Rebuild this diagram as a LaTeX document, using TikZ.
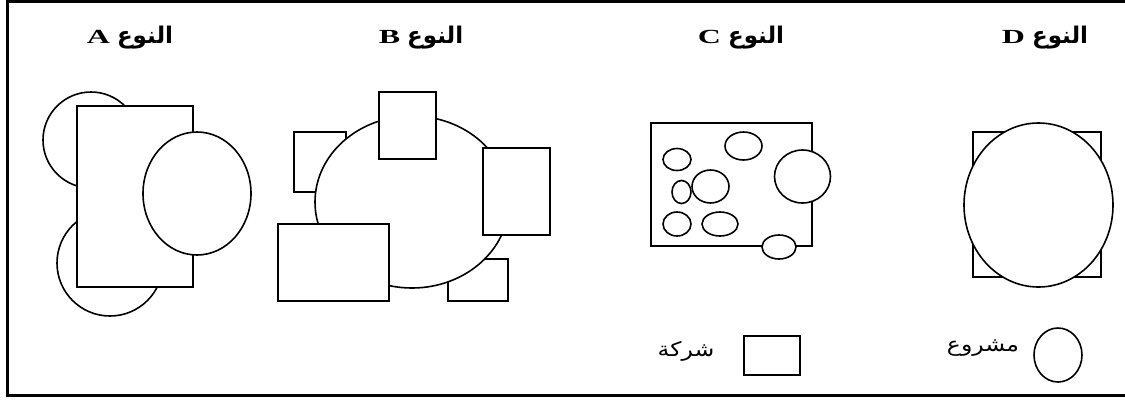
\documentclass[tikz,border=0pt]{standalone}
\usepackage{fontspec}
\setmainfont{Liberation Serif}
\newfontfamily\arabicfont[Script=Arabic]{DejaVu Sans}
\TeXXeTstate=1
\newcommand{\typetitle}[1]{\scalebox{1.6}[1]{\fontsize{20}{24}\selectfont\bfseries #1}\hspace{7pt}{\arabicfont\fontsize{23}{28}\selectfont\bfseries\beginR النوع\endR}}
\begin{document}
\begin{tikzpicture}[x=1pt,y=-1pt,
  shp/.style={draw,line width=1.6pt,fill=white},
  ttl/.style={inner sep=0pt,anchor=base},
  lbl/.style={inner sep=0pt,font=\fontsize{20}{24}\selectfont\arabicfont}]
\useasboundingbox (0,0) rectangle (1125,400);
\fill[white] (0,0) rectangle (1125,400);
\draw[line width=3pt] (1130,1.5) -- (7,1.5) -- (7,395) -- (1130,395);
% titles
\node[ttl] (tA) at (130,43) {\typetitle{A}};
\node[ttl] (tB) at (421,43) {\typetitle{B}};
\node[ttl] (tC) at (741,43) {\typetitle{C}};
\node[ttl] (tD) at (1045,43) {\typetitle{D}};
% Type A
\draw[shp] (91,140) circle [radius=48];
\draw[shp] (110,263) ellipse [x radius=53, y radius=53];
\draw[shp] (77,106) rectangle (193,287);
\draw[shp] (197,193.5) ellipse [x radius=54, y radius=61.5];
% Type B
\draw[shp] (294,132) rectangle (346,192);
\draw[shp] (448,259) rectangle (508,301);
\draw[shp] (412,202) ellipse [x radius=97, y radius=86];
\draw[shp] (379,92) rectangle (436,159);
\draw[shp] (483,148) rectangle (550,235);
\draw[shp] (278,224) rectangle (389,301);
% Type C
\draw[shp] (651,123) rectangle (812,246);
\draw[shp] (743.5,146) ellipse [x radius=18.5, y radius=14];
\draw[shp] (677,159.5) ellipse [x radius=14, y radius=11];
\draw[shp] (710.5,186.5) ellipse [x radius=18.5, y radius=16.5];
\draw[shp] (681.5,192) ellipse [x radius=9.5, y radius=11.5];
\draw[shp] (677,224) ellipse [x radius=14, y radius=12];
\draw[shp] (720,224) ellipse [x radius=18, y radius=12];
\draw[shp] (802.5,176.5) ellipse [x radius=28, y radius=26.5];
\draw[shp] (779,247) ellipse [x radius=17, y radius=12];
% Type D
\draw[shp] (973,132) rectangle (1101,277);
\draw[shp] (1038.5,205) ellipse [x radius=74.5, y radius=82];
% legend
\draw[shp] (744,336) rectangle (800,375);
\node[lbl] (lc) at (686,351) {\scalebox{1.18}[1]{\beginR شركة\endR}};
\draw[shp] (1058,355) ellipse [x radius=24, y radius=27];
\node[lbl] (lp) at (983,348) {\scalebox{1.18}[1]{\beginR مشروع\endR}};
\end{tikzpicture}
\end{document}
